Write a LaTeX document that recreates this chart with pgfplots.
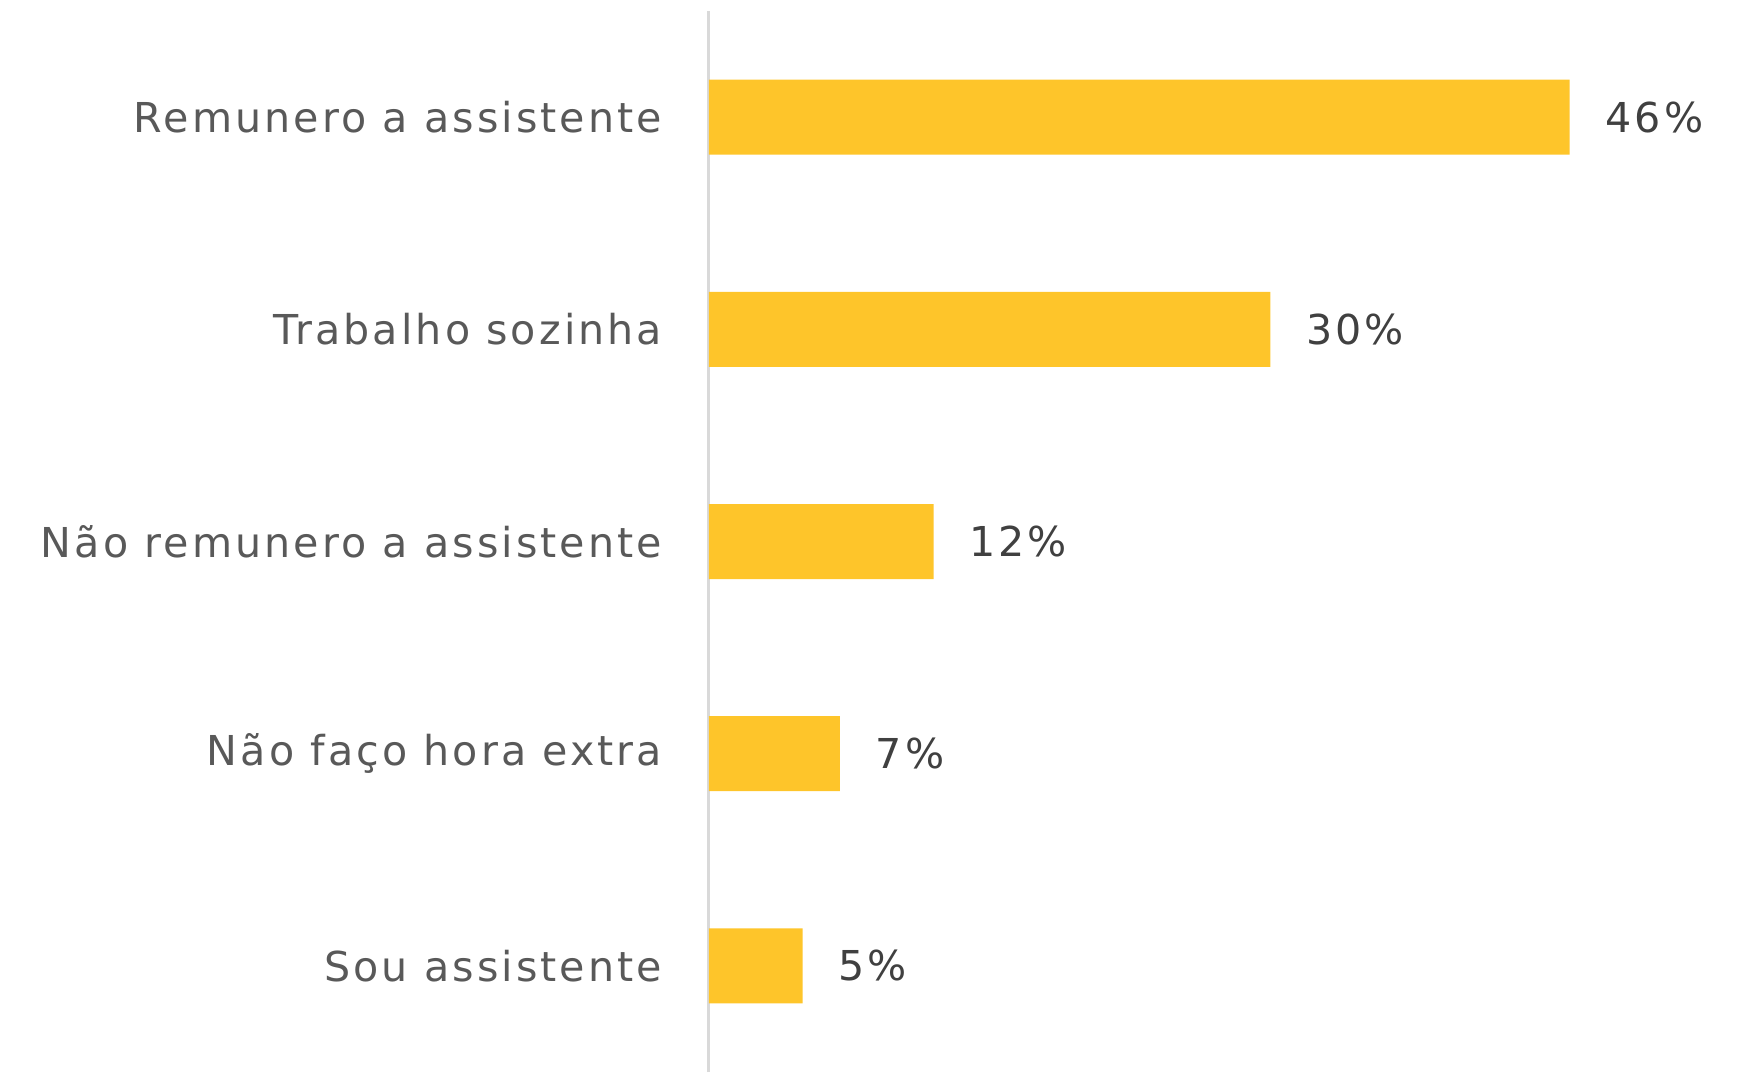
\documentclass[border=0pt]{standalone}
\usepackage{pgfplots}
\pgfplotsset{compat=1.18}
\usepackage{fontspec}
\setmainfont{DejaVu Sans}[LetterSpace=7.5]
\definecolor{barc}{HTML}{FEC52A}
\definecolor{labc}{HTML}{595959}
\definecolor{valc}{HTML}{404040}
\definecolor{axc}{HTML}{D9D9D9}
\begin{document}
\begin{tikzpicture}
  \useasboundingbox (-177.25pt,0) rectangle (261pt,268pt);
  \begin{axis}[
      scale only axis,
      width=261pt,
      height=265.25pt,
      xbar,
      bar width=18.75pt,
      xmin=0, xmax=55.8,
      ymin=0.5, ymax=5.5,
      axis x line=none,
      axis y line*=left,
      y axis line style={draw=axc, line width=0.75pt},
      ytick={1,2,3,4,5},
      yticklabels={Sou assistente, Não faço hora extra, Não remunero a assistente, Trabalho sozinha, Remunero a assistente},
      major tick length=0pt,
      ytick style={draw=none},
      yticklabel style={anchor=east, inner sep=0pt, xshift=-11.5pt,
        font=\fontsize{10.3}{12}\selectfont, text=labc},
      /pgf/number format/assume math mode=true,
      nodes near coords={\pgfmathprintnumber{\pgfplotspointmeta}\%},
      every node near coord/.append style={anchor=west, inner sep=0pt, xshift=8.75pt,
        font=\fontsize{10.3}{12}\selectfont, text=valc},
      clip=false,
    ]
    \addplot[fill=barc, draw=none] coordinates {
      (5,1) (7,2) (12,3) (30,4) (46,5)
    };
  \end{axis}
\end{tikzpicture}
\end{document}
